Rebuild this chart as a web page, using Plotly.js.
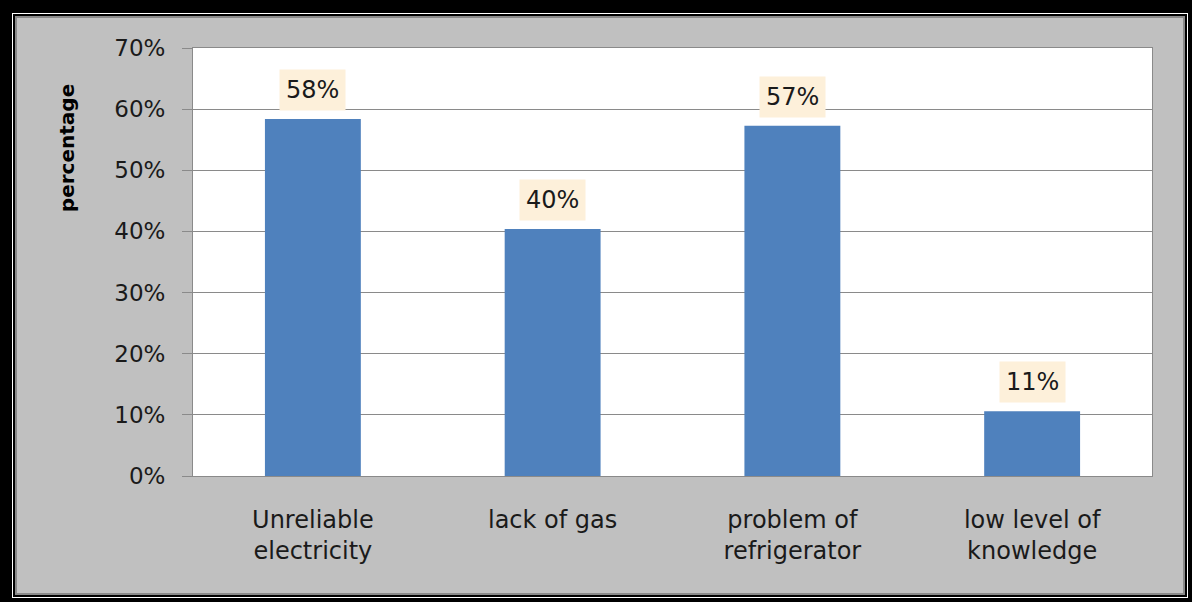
<!DOCTYPE html>
<html>
<head>
<meta charset="utf-8">
<script src="https://cdn.plot.ly/plotly-3.0.1.min.js"></script>
<style>
  html, body { margin: 0; padding: 0; background: #000; width: 1192px; height: 602px; overflow: hidden; }
  #white { position: absolute; left: 12px; top: 13px; width: 1174px; height: 583px; border: 1px solid #ffffff; }
  #panel { position: absolute; left: 15px; top: 16px; width: 1166px; height: 575px; border: 2px solid #8a8a8a; background: #c0c0c0; }
  #chart { width: 1166px; height: 575px; }
</style>
</head>
<body>
<div id="white"></div>
<div id="panel"><div id="chart"></div></div>
<script>
const categories = ["Unreliable<br>electricity", "lack of gas", "problem of<br>refrigerator", "low level of<br>knowledge"];
const values = [0.584, 0.404, 0.573, 0.106];
const valueLabels = ["58%", "40%", "57%", "11%"];
const yTickVals = [0, 0.1, 0.2, 0.3, 0.4, 0.5, 0.6, 0.7];
const yTickText = ["0%", "10%", "20%", "30%", "40%", "50%", "60%", "70%"];
const yTitle = "percentage";

const FONT = "DejaVu Sans";
const textColor = "#1a1a1a";

const trace = {
  type: "bar",
  x: categories,
  y: values,
  marker: { color: "#4f81bd", line: { width: 0 } },
  hoverinfo: "none"
};

const annotations = categories.map((c, i) => ({
  x: c, y: values[i], xref: "x", yref: "y",
  text: valueLabels[i],
  showarrow: false,
  xanchor: "center",
  yanchor: "bottom",
  yshift: 8,
  bgcolor: "#fdf0da",
  borderpad: 6,
  font: { family: FONT, size: 24, color: textColor }
}));
annotations.push({
  text: "<b>" + yTitle + "</b>",
  xref: "paper", yref: "paper",
  x: -0.1314, y: 0.766,
  xanchor: "center", yanchor: "middle",
  textangle: -90,
  showarrow: false,
  font: { family: FONT, size: 20, color: "#000" }
});

const layout = {
  width: 1166, height: 575,
  margin: { l: 176, r: 31, t: 30, b: 117 },
  paper_bgcolor: "#c0c0c0",
  plot_bgcolor: "#ffffff",
  bargap: 0.6,
  showlegend: false,
  xaxis: {
    showline: true, linecolor: "#8a8a8a", linewidth: 1, mirror: true,
    ticks: "", showgrid: false,
    tickfont: { family: FONT, size: 24, color: textColor },
    ticklabelstandoff: 22,
    fixedrange: true
  },
  yaxis: {
    range: [0, 0.7],
    tickvals: yTickVals, ticktext: yTickText,
    showline: true, linecolor: "#8a8a8a", linewidth: 1, mirror: true,
    ticks: "outside", ticklen: 10, tickcolor: "#8a8a8a",
    showgrid: true, gridcolor: "#8a8a8a", gridwidth: 1,
    zeroline: false,
    tickfont: { family: FONT, size: 23, color: textColor },
    ticklabelstandoff: 12,
    fixedrange: true
  },
  annotations: annotations
};

Plotly.newPlot("chart", [trace], layout, { displayModeBar: false, staticPlot: true });
</script>
</body>
</html>
